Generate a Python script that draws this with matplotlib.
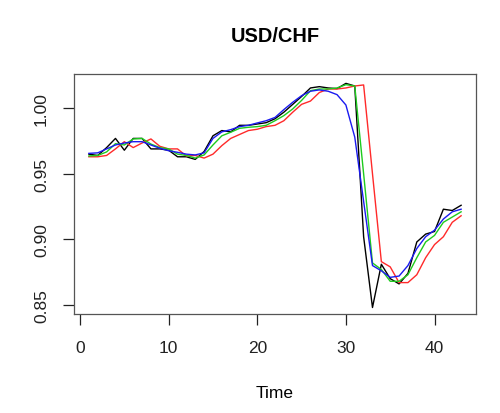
import matplotlib.pyplot as plt

plt.rcParams['font.family'] = ['Liberation Sans', 'DejaVu Sans']

# time index 1..43
t = list(range(1, 44))

# observed USD/CHF (black)
usdchf = [0.965, 0.964, 0.970, 0.977, 0.968, 0.977, 0.977, 0.969, 0.969, 0.968,
          0.963, 0.963, 0.961, 0.967, 0.979, 0.983, 0.982, 0.987, 0.987, 0.988,
          0.989, 0.992, 0.997, 1.003, 1.009, 1.0155, 1.0165, 1.0155, 1.015, 1.019,
          1.017, 0.902, 0.848, 0.881, 0.870, 0.866, 0.874, 0.898, 0.904, 0.906,
          0.923, 0.922, 0.926]

# smoothed / fitted series
fit_red = [0.963, 0.963, 0.964, 0.969, 0.9745, 0.970, 0.9735, 0.9766, 0.971, 0.969,
           0.969, 0.9636, 0.964, 0.962, 0.965, 0.9715, 0.977, 0.980, 0.983, 0.984,
           0.986, 0.987, 0.9905, 0.997, 1.003, 1.0055, 1.012, 1.0147, 1.0147, 1.0155,
           1.017, 1.0178, 0.950, 0.883, 0.879, 0.867, 0.867, 0.873, 0.886, 0.896,
           0.902, 0.913, 0.918]

fit_green = [0.9636, 0.964, 0.9667, 0.973, 0.972, 0.9766, 0.977, 0.9727, 0.970, 0.969,
             0.965, 0.964, 0.962, 0.9644, 0.972, 0.979, 0.9817, 0.9847, 0.9855, 0.986,
             0.987, 0.9905, 0.9944, 0.9995, 1.006, 1.0134, 1.0147, 1.0147, 1.0155, 1.018,
             1.017, 0.950, 0.882, 0.877, 0.868, 0.868, 0.873, 0.886, 0.898, 0.903,
             0.913, 0.917, 0.921]

fit_blue = [0.9656, 0.966, 0.969, 0.972, 0.9735, 0.9745, 0.9745, 0.972, 0.9695, 0.9676,
            0.9664, 0.965, 0.9644, 0.966, 0.977, 0.982, 0.9837, 0.986, 0.987, 0.9888,
            0.9905, 0.993, 0.999, 1.0046, 1.0096, 1.013, 1.014, 1.013, 1.0104, 1.0025,
            0.978, 0.929, 0.880, 0.876, 0.871, 0.872, 0.880, 0.893, 0.902, 0.907,
            0.9155, 0.921, 0.923]

fig = plt.figure(figsize=(5.0, 4.14), dpi=100)
ax = fig.add_axes([0.148, 0.239, 0.804, 0.580])

ax.plot(t, usdchf, color='black', lw=1.0)
ax.plot(t, fit_red, color='#FF2A2A', lw=1.0)
ax.plot(t, fit_green, color='#1ECB1E', lw=1.0)
ax.plot(t, fit_blue, color='#1A1AF0', lw=1.0)

ax.set_xlim(-0.68, 44.68)
ax.set_ylim(0.843, 1.0262)
ax.set_xticks([0, 10, 20, 30, 40])
ax.set_yticks([0.85, 0.90, 0.95, 1.00])
ax.set_yticklabels(['0.85', '0.90', '0.95', '1.00'], rotation=90, va='center')

ax.tick_params(direction='out', length=8, width=0.9, labelsize=12.5, colors='#222222')
ax.tick_params(axis='x', pad=11)
ax.tick_params(axis='y', pad=10)
for s in ax.spines.values():
    s.set_color('#555555')
    s.set_linewidth(0.9)

ax.set_title('USD/CHF', fontsize=14.4, fontweight='bold', pad=24)
ax.set_xlabel('Time', fontsize=12.5, labelpad=21)

fig.savefig('out.png', dpi=100)
